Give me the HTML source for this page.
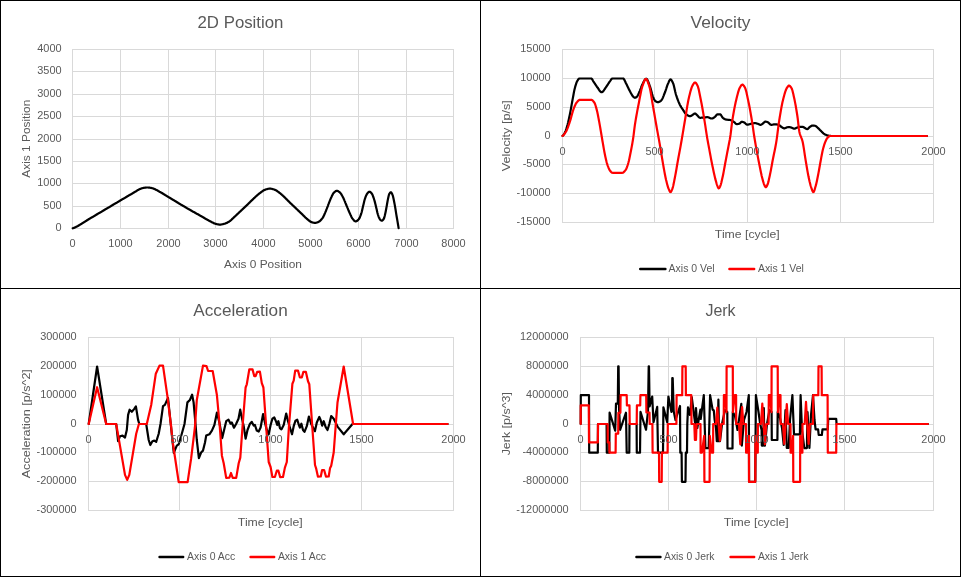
<!DOCTYPE html>
<html lang="en"><head><meta charset="utf-8"><title>Motion profile charts</title>
<style>
html,body{margin:0;padding:0;background:#fff;}
body{width:961px;height:577px;overflow:hidden;}
svg{display:block;font-family:"Liberation Sans", sans-serif;}
</style></head><body>
<svg width="961" height="577" viewBox="0 0 961 577">
<rect x="0" y="0" width="961" height="577" fill="#fff"/>
<g stroke="#d9d9d9" stroke-width="1" shape-rendering="crispEdges">
<line x1="72.5" y1="49" x2="72.5" y2="229"/>
<line x1="120.5" y1="49" x2="120.5" y2="229"/>
<line x1="168.5" y1="49" x2="168.5" y2="229"/>
<line x1="215.5" y1="49" x2="215.5" y2="229"/>
<line x1="263.5" y1="49" x2="263.5" y2="229"/>
<line x1="310.5" y1="49" x2="310.5" y2="229"/>
<line x1="358.5" y1="49" x2="358.5" y2="229"/>
<line x1="406.5" y1="49" x2="406.5" y2="229"/>
<line x1="453.5" y1="49" x2="453.5" y2="229"/>
<line x1="72" y1="49.5" x2="454" y2="49.5"/>
<line x1="72" y1="71.5" x2="454" y2="71.5"/>
<line x1="72" y1="94.5" x2="454" y2="94.5"/>
<line x1="72" y1="116.5" x2="454" y2="116.5"/>
<line x1="72" y1="139.5" x2="454" y2="139.5"/>
<line x1="72" y1="161.5" x2="454" y2="161.5"/>
<line x1="72" y1="183.5" x2="454" y2="183.5"/>
<line x1="72" y1="206.5" x2="454" y2="206.5"/>
<line x1="72" y1="228.5" x2="454" y2="228.5"/>
</g>
<g fill="none" stroke-width="2.2" stroke-linejoin="round" stroke-linecap="round">
<polyline points="72.7,228.3 73.1,228.2 73.5,228.0 73.9,227.9 74.3,227.7 74.7,227.5 75.1,227.4 75.5,227.2 75.9,227.0 76.3,226.8 76.7,226.6 77.1,226.4 77.5,226.2 77.9,226.0 78.3,225.7 78.7,225.5 79.1,225.3 79.5,225.0 79.9,224.8 80.3,224.6 80.7,224.3 81.1,224.1 81.5,223.8 81.9,223.6 82.3,223.3 82.7,223.1 83.1,222.8 83.5,222.6 83.9,222.3 84.3,222.1 84.7,221.8 85.1,221.6 85.5,221.3 85.9,221.1 86.3,220.8 86.7,220.5 87.1,220.3 87.5,220.0 87.9,219.8 88.3,219.5 88.7,219.3 89.1,219.0 89.5,218.8 89.9,218.6 90.3,218.3 90.7,218.1 91.1,217.8 91.5,217.6 91.9,217.4 92.3,217.1 92.7,216.9 93.1,216.7 93.5,216.4 93.9,216.2 94.3,215.9 94.7,215.7 95.1,215.5 95.5,215.2 95.9,215.0 96.3,214.8 96.7,214.5 97.1,214.3 97.5,214.0 97.9,213.8 98.3,213.6 98.7,213.3 99.1,213.1 99.5,212.9 99.9,212.6 100.3,212.4 100.7,212.2 101.1,211.9 101.5,211.7 101.9,211.4 102.3,211.2 102.7,211.0 103.1,210.7 103.5,210.5 103.9,210.3 104.3,210.0 104.7,209.8 105.1,209.5 105.5,209.3 105.9,209.1 106.3,208.8 106.7,208.6 107.1,208.4 107.5,208.1 107.9,207.9 108.3,207.6 108.7,207.4 109.1,207.2 109.5,206.9 109.9,206.7 110.3,206.5 110.7,206.2 111.1,206.0 111.5,205.7 111.9,205.5 112.3,205.3 112.7,205.0 113.1,204.8 113.5,204.5 113.9,204.3 114.3,204.1 114.7,203.8 115.1,203.6 115.5,203.4 115.9,203.1 116.3,202.9 116.7,202.7 117.1,202.4 117.5,202.2 117.9,201.9 118.3,201.7 118.7,201.5 119.1,201.2 119.5,201.0 119.9,200.8 120.3,200.5 120.7,200.3 121.1,200.1 121.5,199.8 121.9,199.6 122.3,199.3 122.7,199.1 123.1,198.9 123.5,198.6 123.9,198.4 124.3,198.2 124.7,197.9 125.1,197.7 125.5,197.5 125.9,197.2 126.3,197.0 126.7,196.8 127.1,196.5 127.5,196.3 127.9,196.1 128.3,195.8 128.7,195.6 129.1,195.3 129.5,195.1 129.9,194.9 130.3,194.6 130.7,194.4 131.1,194.2 131.5,193.9 131.9,193.7 132.3,193.5 132.7,193.2 133.1,193.0 133.5,192.8 133.9,192.5 134.3,192.3 134.7,192.1 135.1,191.8 135.5,191.6 135.9,191.4 136.3,191.1 136.7,190.8 137.1,190.6 137.5,190.3 137.9,190.1 138.3,189.9 138.7,189.6 139.1,189.4 139.5,189.2 139.9,189.0 140.3,188.9 140.7,188.7 141.1,188.6 141.5,188.4 141.9,188.3 142.3,188.2 142.7,188.1 143.1,188.0 143.5,187.9 143.9,187.8 144.3,187.8 144.7,187.7 145.1,187.7 145.5,187.6 145.9,187.6 146.3,187.5 146.7,187.5 147.1,187.5 147.5,187.5 147.9,187.5 148.3,187.5 148.7,187.6 149.1,187.6 149.5,187.7 149.9,187.7 150.3,187.8 150.7,187.9 151.1,187.9 151.5,188.0 151.9,188.1 152.3,188.2 152.7,188.3 153.1,188.5 153.5,188.6 153.9,188.8 154.3,189.0 154.7,189.1 155.1,189.3 155.5,189.5 155.9,189.7 156.3,189.9 156.7,190.1 157.1,190.3 157.5,190.5 157.9,190.7 158.3,191.0 158.7,191.2 159.1,191.4 159.5,191.7 159.9,191.9 160.3,192.1 160.7,192.4 161.1,192.6 161.5,192.8 161.9,193.0 162.3,193.3 162.7,193.5 163.1,193.8 163.5,194.0 163.9,194.2 164.3,194.5 164.7,194.7 165.1,195.0 165.5,195.2 165.9,195.4 166.3,195.7 166.7,195.9 167.1,196.2 167.5,196.4 167.9,196.7 168.3,196.9 168.7,197.2 169.1,197.4 169.5,197.6 169.9,197.9 170.3,198.1 170.7,198.4 171.1,198.6 171.5,198.9 171.9,199.1 172.3,199.4 172.7,199.6 173.1,199.9 173.5,200.1 173.9,200.3 174.3,200.6 174.7,200.8 175.1,201.1 175.5,201.3 175.9,201.5 176.3,201.8 176.7,202.0 177.1,202.3 177.5,202.5 177.9,202.7 178.3,203.0 178.7,203.2 179.1,203.5 179.5,203.7 179.9,203.9 180.3,204.2 180.7,204.4 181.1,204.7 181.5,204.9 181.9,205.1 182.3,205.4 182.7,205.6 183.1,205.9 183.5,206.1 183.9,206.3 184.3,206.6 184.7,206.8 185.1,207.0 185.5,207.3 185.9,207.5 186.3,207.7 186.7,208.0 187.1,208.2 187.5,208.4 187.9,208.7 188.3,208.9 188.7,209.1 189.1,209.4 189.5,209.6 189.9,209.8 190.3,210.1 190.7,210.3 191.1,210.5 191.5,210.8 191.9,211.0 192.3,211.2 192.7,211.4 193.1,211.7 193.5,211.9 193.9,212.1 194.3,212.3 194.7,212.5 195.1,212.8 195.5,213.0 195.9,213.2 196.3,213.4 196.7,213.7 197.1,213.9 197.5,214.1 197.9,214.3 198.3,214.5 198.7,214.8 199.1,215.0 199.5,215.2 199.9,215.4 200.3,215.7 200.7,215.9 201.1,216.1 201.5,216.4 201.9,216.6 202.3,216.8 202.7,217.1 203.1,217.3 203.5,217.5 203.9,217.8 204.3,218.0 204.7,218.2 205.1,218.5 205.5,218.7 205.9,218.9 206.3,219.2 206.7,219.4 207.1,219.6 207.5,219.8 207.9,220.1 208.3,220.3 208.7,220.5 209.1,220.7 209.5,220.9 209.9,221.1 210.3,221.4 210.7,221.6 211.1,221.8 211.5,222.0 211.9,222.2 212.3,222.4 212.7,222.6 213.1,222.8 213.5,223.0 213.9,223.2 214.3,223.4 214.7,223.5 215.1,223.6 215.5,223.7 215.9,223.9 216.3,224.0 216.7,224.1 217.1,224.2 217.5,224.3 217.9,224.4 218.3,224.4 218.7,224.5 219.1,224.6 219.5,224.6 219.9,224.6 220.3,224.6 220.7,224.6 221.1,224.5 221.5,224.5 221.9,224.4 222.3,224.3 222.7,224.2 223.1,224.1 223.5,224.0 223.9,223.9 224.3,223.8 224.7,223.7 225.1,223.6 225.5,223.4 225.9,223.3 226.3,223.1 226.7,223.0 227.1,222.8 227.5,222.5 227.9,222.3 228.3,222.1 228.7,221.9 229.1,221.6 229.5,221.3 229.9,221.1 230.3,220.8 230.7,220.4 231.1,220.1 231.5,219.7 231.9,219.3 232.3,218.9 232.7,218.5 233.1,218.1 233.5,217.8 233.9,217.4 234.3,217.0 234.7,216.6 235.1,216.3 235.5,215.9 235.9,215.5 236.3,215.1 236.7,214.8 237.1,214.4 237.5,214.0 237.9,213.6 238.3,213.3 238.7,212.9 239.1,212.5 239.5,212.1 239.9,211.7 240.3,211.4 240.7,211.0 241.1,210.6 241.5,210.2 241.9,209.9 242.3,209.5 242.7,209.1 243.1,208.7 243.5,208.3 243.9,208.0 244.3,207.6 244.7,207.2 245.1,206.8 245.5,206.5 245.9,206.1 246.3,205.7 246.7,205.3 247.1,205.0 247.5,204.6 247.9,204.2 248.3,203.8 248.7,203.4 249.1,203.0 249.5,202.6 249.9,202.2 250.3,201.8 250.7,201.4 251.1,201.0 251.5,200.7 251.9,200.3 252.3,199.9 252.7,199.5 253.1,199.1 253.5,198.7 253.9,198.3 254.3,197.9 254.7,197.6 255.1,197.2 255.5,196.8 255.9,196.4 256.3,196.1 256.7,195.7 257.1,195.4 257.5,195.0 257.9,194.7 258.3,194.4 258.7,194.0 259.1,193.7 259.5,193.4 259.9,193.1 260.3,192.8 260.7,192.5 261.1,192.2 261.5,191.9 261.9,191.6 262.3,191.3 262.7,191.0 263.1,190.7 263.5,190.5 263.9,190.2 264.3,190.0 264.7,189.9 265.1,189.7 265.5,189.6 265.9,189.4 266.3,189.3 266.7,189.2 267.1,189.1 267.5,189.0 267.9,188.9 268.3,188.8 268.7,188.7 269.1,188.6 269.5,188.6 269.9,188.6 270.3,188.6 270.7,188.6 271.1,188.7 271.5,188.8 271.9,188.9 272.3,189.0 272.7,189.1 273.1,189.2 273.5,189.3 273.9,189.4 274.3,189.6 274.7,189.7 275.1,189.9 275.5,190.0 275.9,190.2 276.3,190.5 276.7,190.7 277.1,191.0 277.5,191.3 277.9,191.6 278.3,191.9 278.7,192.2 279.1,192.5 279.5,192.8 279.9,193.1 280.3,193.4 280.7,193.7 281.1,194.1 281.5,194.4 281.9,194.8 282.3,195.1 282.7,195.5 283.1,195.9 283.5,196.2 283.9,196.6 284.3,197.0 284.7,197.4 285.1,197.8 285.5,198.2 285.9,198.6 286.3,199.0 286.7,199.4 287.1,199.8 287.5,200.2 287.9,200.6 288.3,201.0 288.7,201.4 289.1,201.8 289.5,202.2 289.9,202.6 290.3,203.0 290.7,203.4 291.1,203.7 291.5,204.1 291.9,204.5 292.3,204.9 292.7,205.3 293.1,205.6 293.5,206.0 293.9,206.4 294.3,206.8 294.7,207.2 295.1,207.5 295.5,207.9 295.9,208.3 296.3,208.7 296.7,209.1 297.1,209.4 297.5,209.8 297.9,210.2 298.3,210.6 298.7,211.0 299.1,211.3 299.5,211.7 299.9,212.1 300.3,212.5 300.7,212.9 301.1,213.3 301.5,213.7 301.9,214.0 302.3,214.4 302.7,214.8 303.1,215.2 303.5,215.6 303.9,216.0 304.3,216.4 304.7,216.8 305.1,217.2 305.5,217.6 305.9,217.9 306.3,218.3 306.7,218.6 307.1,219.0 307.5,219.3 307.9,219.6 308.3,220.0 308.7,220.3 309.1,220.7 309.5,221.0 309.9,221.3 310.3,221.5 310.7,221.8 311.1,222.0 311.5,222.1 311.9,222.2 312.3,222.4 312.7,222.5 313.1,222.6 313.5,222.7 313.9,222.8 314.3,222.9 314.7,222.9 315.1,222.9 315.5,222.9 315.9,222.8 316.3,222.7 316.7,222.6 317.1,222.5 317.5,222.3 317.9,222.2 318.3,222.0 318.7,221.8 319.1,221.6 319.5,221.3 319.9,221.0 320.3,220.7 320.7,220.3 321.1,219.8 321.5,219.4 321.9,218.9 322.3,218.4 322.7,217.8 323.1,217.2 323.5,216.4 323.9,215.6 324.3,214.7 324.7,213.8 325.1,212.9 325.5,211.9 325.9,211.0 326.3,209.9 326.7,208.9 327.1,207.8 327.5,206.8 327.9,205.8 328.3,204.7 328.7,203.7 329.1,202.6 329.5,201.6 329.9,200.6 330.3,199.6 330.7,198.6 331.1,197.7 331.5,196.9 331.9,196.0 332.3,195.2 332.7,194.4 333.1,193.7 333.5,193.1 333.9,192.7 334.3,192.3 334.7,191.9 335.1,191.6 335.5,191.3 335.9,191.0 336.3,190.9 336.7,190.8 337.1,190.8 337.5,190.9 337.9,191.1 338.3,191.3 338.7,191.6 339.1,191.9 339.5,192.2 339.9,192.5 340.3,192.9 340.7,193.4 341.1,193.9 341.5,194.6 341.9,195.3 342.3,196.0 342.7,196.7 343.1,197.5 343.5,198.3 343.9,199.2 344.3,200.1 344.7,201.1 345.1,202.0 345.5,203.1 345.9,204.0 346.3,205.0 346.7,206.0 347.1,206.9 347.5,207.9 347.9,208.8 348.3,209.8 348.7,210.8 349.1,211.7 349.5,212.6 349.9,213.5 350.3,214.4 350.7,215.3 351.1,216.1 351.5,217.0 351.9,217.7 352.3,218.4 352.7,218.9 353.1,219.4 353.5,219.9 353.9,220.4 354.3,220.8 354.7,221.1 355.1,221.3 355.5,221.4 355.9,221.4 356.3,221.3 356.7,221.1 357.1,220.8 357.5,220.5 357.9,220.1 358.3,219.7 358.7,219.3 359.1,218.8 359.5,218.1 359.9,217.2 360.3,216.2 360.7,215.1 361.1,214.0 361.5,212.7 361.9,211.2 362.3,209.5 362.7,207.7 363.1,206.1 363.5,204.4 363.9,202.7 364.3,201.0 364.7,199.5 365.1,198.3 365.5,197.2 365.9,196.1 366.3,195.2 366.7,194.4 367.1,193.7 367.5,193.2 367.9,192.8 368.3,192.4 368.7,192.0 369.1,191.8 369.5,191.7 369.9,191.8 370.3,192.0 370.7,192.3 371.1,192.7 371.5,193.2 371.9,193.7 372.3,194.4 372.7,195.3 373.1,196.4 373.5,197.5 373.9,198.7 374.3,200.0 374.7,201.4 375.1,202.9 375.5,204.6 375.9,206.3 376.3,207.9 376.7,209.6 377.1,211.4 377.5,213.1 377.9,214.5 378.3,215.7 378.7,216.8 379.1,217.8 379.5,218.6 379.9,219.2 380.3,219.7 380.7,220.1 381.1,220.4 381.5,220.6 381.9,220.7 382.3,220.5 382.7,220.2 383.1,219.8 383.5,219.3 383.9,218.6 384.3,217.5 384.7,216.0 385.1,214.3 385.5,212.5 385.9,210.5 386.3,208.3 386.7,206.1 387.1,203.8 387.5,201.5 387.9,199.4 388.3,197.5 388.7,195.7 389.1,194.3 389.5,193.6 389.9,193.0 390.3,192.5 390.7,192.3 391.1,192.4 391.5,192.8 391.9,193.5 392.3,194.3 392.7,195.3 393.1,196.7 393.5,198.5 393.9,200.5 394.3,202.5 394.7,204.6 395.1,206.9 395.5,209.3 395.9,211.8 396.3,214.3 396.7,216.7 397.1,219.0 397.5,221.4 397.9,223.7 398.3,226.1 398.6,228.1" stroke="#000000"/>
</g>
<g fill="#595959">
<text x="240.50" y="27.70" font-size="16.80" text-anchor="middle" textLength="85.92" lengthAdjust="spacingAndGlyphs">2D Position</text>
<text x="61.60" y="52.10" font-size="10.80" text-anchor="end" textLength="24.33" lengthAdjust="spacingAndGlyphs">4000</text>
<text x="61.60" y="74.10" font-size="10.80" text-anchor="end" textLength="24.33" lengthAdjust="spacingAndGlyphs">3500</text>
<text x="61.60" y="97.10" font-size="10.80" text-anchor="end" textLength="24.33" lengthAdjust="spacingAndGlyphs">3000</text>
<text x="61.60" y="119.10" font-size="10.80" text-anchor="end" textLength="24.33" lengthAdjust="spacingAndGlyphs">2500</text>
<text x="61.60" y="142.10" font-size="10.80" text-anchor="end" textLength="24.33" lengthAdjust="spacingAndGlyphs">2000</text>
<text x="61.60" y="164.10" font-size="10.80" text-anchor="end" textLength="24.33" lengthAdjust="spacingAndGlyphs">1500</text>
<text x="61.60" y="186.10" font-size="10.80" text-anchor="end" textLength="24.33" lengthAdjust="spacingAndGlyphs">1000</text>
<text x="61.60" y="209.10" font-size="10.80" text-anchor="end" textLength="18.25" lengthAdjust="spacingAndGlyphs">500</text>
<text x="61.60" y="231.10" font-size="10.80" text-anchor="end" textLength="6.08" lengthAdjust="spacingAndGlyphs">0</text>
<text x="72.50" y="246.90" font-size="10.80" text-anchor="middle" textLength="6.08" lengthAdjust="spacingAndGlyphs">0</text>
<text x="120.50" y="246.90" font-size="10.80" text-anchor="middle" textLength="24.33" lengthAdjust="spacingAndGlyphs">1000</text>
<text x="168.50" y="246.90" font-size="10.80" text-anchor="middle" textLength="24.33" lengthAdjust="spacingAndGlyphs">2000</text>
<text x="215.50" y="246.90" font-size="10.80" text-anchor="middle" textLength="24.33" lengthAdjust="spacingAndGlyphs">3000</text>
<text x="263.50" y="246.90" font-size="10.80" text-anchor="middle" textLength="24.33" lengthAdjust="spacingAndGlyphs">4000</text>
<text x="310.50" y="246.90" font-size="10.80" text-anchor="middle" textLength="24.33" lengthAdjust="spacingAndGlyphs">5000</text>
<text x="358.50" y="246.90" font-size="10.80" text-anchor="middle" textLength="24.33" lengthAdjust="spacingAndGlyphs">6000</text>
<text x="406.50" y="246.90" font-size="10.80" text-anchor="middle" textLength="24.33" lengthAdjust="spacingAndGlyphs">7000</text>
<text x="453.50" y="246.90" font-size="10.80" text-anchor="middle" textLength="24.33" lengthAdjust="spacingAndGlyphs">8000</text>
<text x="263.00" y="267.60" font-size="11.33" text-anchor="middle" textLength="77.94" lengthAdjust="spacingAndGlyphs">Axis 0 Position</text>
<text x="29.60" y="138.70" font-size="11.33" text-anchor="middle" textLength="77.94" lengthAdjust="spacingAndGlyphs" transform="rotate(-90 29.60 138.70)">Axis 1 Position</text>
</g>
<g stroke="#d9d9d9" stroke-width="1" shape-rendering="crispEdges">
<line x1="562.5" y1="49" x2="562.5" y2="223"/>
<line x1="654.5" y1="49" x2="654.5" y2="223"/>
<line x1="747.5" y1="49" x2="747.5" y2="223"/>
<line x1="840.5" y1="49" x2="840.5" y2="223"/>
<line x1="933.5" y1="49" x2="933.5" y2="223"/>
<line x1="562" y1="49.5" x2="934" y2="49.5"/>
<line x1="562" y1="78.5" x2="934" y2="78.5"/>
<line x1="562" y1="107.5" x2="934" y2="107.5"/>
<line x1="562" y1="136.5" x2="934" y2="136.5"/>
<line x1="562" y1="164.5" x2="934" y2="164.5"/>
<line x1="562" y1="193.5" x2="934" y2="193.5"/>
<line x1="562" y1="222.5" x2="934" y2="222.5"/>
</g>
<g fill="none" stroke-width="2.2" stroke-linejoin="round" stroke-linecap="round">
<polyline points="562.5,135.9 562.9,135.6 563.3,135.2 563.7,134.6 564.1,134.0 564.5,133.3 564.9,132.6 565.3,131.8 565.7,130.8 566.1,129.6 566.5,128.4 566.9,127.0 567.3,125.6 567.7,124.2 568.1,122.6 568.5,120.8 568.9,119.0 569.3,117.1 569.7,115.2 570.1,113.2 570.5,111.1 570.9,108.9 571.3,106.7 571.7,104.4 572.1,102.2 572.5,100.0 572.9,97.9 573.3,95.7 573.7,93.5 574.1,91.4 574.5,89.5 574.9,87.9 575.3,86.4 575.7,85.1 576.1,83.9 576.5,82.7 576.9,81.7 577.3,80.9 577.7,80.3 578.1,79.7 578.5,79.1 578.9,78.7 579.3,78.5 579.7,78.5 580.1,78.5 580.5,78.5 580.9,78.5 581.3,78.5 581.7,78.5 582.1,78.5 582.5,78.5 582.9,78.5 583.3,78.5 583.7,78.5 584.1,78.5 584.5,78.5 584.9,78.5 585.3,78.5 585.7,78.5 586.1,78.5 586.5,78.5 586.9,78.5 587.3,78.5 587.7,78.5 588.1,78.5 588.5,78.5 588.9,78.5 589.3,78.5 589.7,78.5 590.1,78.5 590.5,78.5 590.9,78.5 591.3,78.5 591.7,78.7 592.1,79.2 592.5,79.8 592.9,80.6 593.3,81.3 593.7,81.9 594.1,82.5 594.5,83.1 594.9,83.7 595.3,84.3 595.7,84.9 596.1,85.5 596.5,86.1 596.9,86.7 597.3,87.2 597.7,87.8 598.1,88.3 598.5,88.9 598.9,89.6 599.3,90.2 599.7,90.7 600.1,91.2 600.5,91.6 600.9,92.0 601.3,92.2 601.7,92.2 602.1,92.1 602.5,91.9 602.9,91.5 603.3,91.1 603.7,90.6 604.1,90.0 604.5,89.4 604.9,88.8 605.3,88.2 605.7,87.6 606.1,87.0 606.5,86.5 606.9,85.9 607.3,85.3 607.7,84.7 608.1,84.0 608.5,83.4 608.9,82.8 609.3,82.2 609.7,81.6 610.1,81.1 610.5,80.5 610.9,79.9 611.3,79.3 611.7,78.9 612.1,78.6 612.5,78.5 612.9,78.5 613.3,78.5 613.7,78.5 614.1,78.5 614.5,78.5 614.9,78.5 615.3,78.5 615.7,78.5 616.1,78.5 616.5,78.5 616.9,78.5 617.3,78.5 617.7,78.5 618.1,78.5 618.5,78.5 618.9,78.5 619.3,78.5 619.7,78.5 620.1,78.5 620.5,78.5 620.9,78.5 621.3,78.5 621.7,78.5 622.1,78.5 622.5,78.5 622.9,78.5 623.3,78.5 623.7,78.8 624.1,79.4 624.5,80.1 624.9,80.9 625.3,81.8 625.7,82.7 626.1,83.5 626.5,84.3 626.9,85.1 627.3,85.9 627.7,86.7 628.1,87.6 628.5,88.4 628.9,89.2 629.3,90.1 629.7,90.8 630.1,91.6 630.5,92.3 630.9,93.1 631.3,93.8 631.7,94.5 632.1,95.2 632.5,95.8 632.9,96.3 633.3,96.7 633.7,97.1 634.1,97.4 634.5,97.7 634.9,97.8 635.3,97.7 635.7,97.6 636.1,97.3 636.5,97.0 636.9,96.7 637.3,96.2 637.7,95.6 638.1,94.8 638.5,93.9 638.9,93.0 639.3,92.0 639.7,91.1 640.1,90.1 640.5,89.1 640.9,88.1 641.3,87.0 641.7,86.0 642.1,85.0 642.5,84.2 642.9,83.4 643.3,82.6 643.7,81.8 644.1,81.0 644.5,80.3 644.9,79.7 645.3,79.2 645.7,78.9 646.1,78.7 646.5,78.8 646.9,79.1 647.3,79.7 647.7,80.5 648.1,81.4 648.5,82.4 648.9,83.5 649.3,84.6 649.7,85.7 650.1,86.7 650.5,88.0 650.9,89.5 651.3,91.0 651.7,92.6 652.1,94.1 652.5,95.4 652.9,96.6 653.3,97.5 653.7,98.4 654.1,99.2 654.5,100.0 654.9,100.6 655.3,101.0 655.7,101.3 656.1,101.6 656.5,101.8 656.9,102.0 657.3,102.1 657.7,102.2 658.1,102.2 658.5,102.1 658.9,102.0 659.3,101.8 659.7,101.6 660.1,101.4 660.5,101.1 660.9,100.8 661.3,100.4 661.7,99.9 662.1,99.2 662.5,98.5 662.9,97.6 663.3,96.6 663.7,95.6 664.1,94.5 664.5,93.5 664.9,92.5 665.3,91.5 665.7,90.3 666.1,89.1 666.5,87.8 666.9,86.6 667.3,85.4 667.7,84.4 668.1,83.5 668.5,82.6 668.9,81.6 669.3,80.8 669.7,80.1 670.1,79.6 670.5,79.4 670.9,79.5 671.3,79.9 671.7,80.5 672.1,81.2 672.5,82.0 672.9,82.9 673.3,83.8 673.7,85.1 674.1,86.7 674.5,88.4 674.9,90.2 675.3,92.0 675.7,93.6 676.1,95.0 676.5,96.2 676.9,97.4 677.3,98.5 677.7,99.6 678.1,100.7 678.5,101.7 678.9,102.6 679.3,103.5 679.7,104.4 680.1,105.2 680.5,105.9 680.9,106.6 681.3,107.3 681.7,107.9 682.1,108.5 682.5,109.1 682.9,109.7 683.3,110.3 683.7,110.9 684.1,111.6 684.5,112.2 684.9,112.8 685.3,113.4 685.7,113.8 686.1,114.2 686.5,114.5 686.9,114.8 687.3,115.1 687.7,115.4 688.1,115.6 688.5,115.8 688.9,116.0 689.3,116.1 689.7,116.2 690.1,116.2 690.5,116.1 690.9,116.0 691.3,115.7 691.7,115.5 692.1,115.2 692.5,115.0 692.9,114.7 693.3,114.4 693.7,114.1 694.1,113.8 694.5,113.6 694.9,113.5 695.3,113.6 695.7,113.8 696.1,114.1 696.5,114.6 696.9,115.0 697.3,115.4 697.7,115.8 698.1,116.2 698.5,116.7 698.9,117.1 699.3,117.5 699.7,117.7 700.1,117.8 700.5,117.8 700.9,117.8 701.3,117.7 701.7,117.7 702.1,117.7 702.5,117.6 702.9,117.6 703.3,117.5 703.7,117.5 704.1,117.5 704.5,117.4 704.9,117.4 705.3,117.3 705.7,117.3 706.1,117.3 706.5,117.2 706.9,117.2 707.3,117.2 707.7,117.2 708.1,117.3 708.5,117.4 708.9,117.5 709.3,117.7 709.7,117.9 710.1,118.1 710.5,118.2 710.9,118.4 711.3,118.5 711.7,118.5 712.1,118.5 712.5,118.4 712.9,118.2 713.3,118.0 713.7,117.7 714.1,117.5 714.5,117.2 714.9,116.9 715.3,116.5 715.7,116.1 716.1,115.5 716.5,115.0 716.9,114.6 717.3,114.3 717.7,114.3 718.1,114.3 718.5,114.3 718.9,114.3 719.3,114.3 719.7,114.3 720.1,114.3 720.5,114.5 720.9,114.9 721.3,115.5 721.7,116.2 722.1,116.9 722.5,117.5 722.9,117.9 723.3,118.2 723.7,118.5 724.1,118.7 724.5,119.0 724.9,119.2 725.3,119.3 725.7,119.5 726.1,119.6 726.5,119.6 726.9,119.7 727.3,119.7 727.7,119.8 728.1,119.8 728.5,119.8 728.9,119.9 729.3,119.9 729.7,120.0 730.1,120.0 730.5,120.1 730.9,120.3 731.3,120.4 731.7,120.6 732.1,120.8 732.5,121.1 732.9,121.3 733.3,121.6 733.7,121.8 734.1,122.1 734.5,122.4 734.9,122.8 735.3,123.2 735.7,123.6 736.1,123.9 736.5,124.1 736.9,124.1 737.3,124.1 737.7,124.0 738.1,124.0 738.5,123.9 738.9,123.8 739.3,123.7 739.7,123.5 740.1,123.1 740.5,122.7 740.9,122.3 741.3,122.0 741.7,121.8 742.1,121.8 742.5,121.9 742.9,122.0 743.3,122.1 743.7,122.2 744.1,122.4 744.5,122.6 744.9,123.0 745.3,123.4 745.7,123.7 746.1,124.1 746.5,124.4 746.9,124.6 747.3,124.7 747.7,124.7 748.1,124.6 748.5,124.5 748.9,124.4 749.3,124.3 749.7,124.2 750.1,124.0 750.5,123.9 750.9,123.8 751.3,123.7 751.7,123.6 752.1,123.5 752.5,123.4 752.9,123.3 753.3,123.3 753.7,123.2 754.1,123.1 754.5,123.1 754.9,123.1 755.3,123.1 755.7,123.2 756.1,123.3 756.5,123.4 756.9,123.5 757.3,123.7 757.7,123.8 758.1,123.9 758.5,124.1 758.9,124.3 759.3,124.5 759.7,124.7 760.1,124.8 760.5,124.9 760.9,124.8 761.3,124.7 761.7,124.4 762.1,124.1 762.5,123.8 762.9,123.5 763.3,123.2 763.7,122.8 764.1,122.4 764.5,122.1 764.9,121.8 765.3,121.6 765.7,121.6 766.1,121.7 766.5,121.8 766.9,121.9 767.3,122.1 767.7,122.3 768.1,122.4 768.5,122.7 768.9,123.1 769.3,123.5 769.7,123.9 770.1,124.3 770.5,124.6 770.9,124.8 771.3,124.9 771.7,124.9 772.1,124.8 772.5,124.7 772.9,124.6 773.3,124.5 773.7,124.4 774.1,124.4 774.5,124.3 774.9,124.3 775.3,124.3 775.7,124.3 776.1,124.4 776.5,124.4 776.9,124.5 777.3,124.6 777.7,124.7 778.1,124.7 778.5,124.8 778.9,125.0 779.3,125.2 779.7,125.5 780.1,125.8 780.5,126.2 780.9,126.5 781.3,126.9 781.7,127.1 782.1,127.4 782.5,127.6 782.9,127.9 783.3,128.1 783.7,128.3 784.1,128.4 784.5,128.4 784.9,128.3 785.3,128.1 785.7,127.9 786.1,127.7 786.5,127.5 786.9,127.4 787.3,127.3 787.7,127.2 788.1,127.2 788.5,127.1 788.9,127.1 789.3,127.1 789.7,127.1 790.1,127.2 790.5,127.3 790.9,127.5 791.3,127.6 791.7,127.8 792.1,127.9 792.5,128.1 792.9,128.3 793.3,128.5 793.7,128.6 794.1,128.7 794.5,128.7 794.9,128.6 795.3,128.4 795.7,128.2 796.1,128.0 796.5,127.8 796.9,127.7 797.3,127.5 797.7,127.4 798.1,127.2 798.5,127.1 798.9,127.0 799.3,126.9 799.7,126.8 800.1,126.8 800.5,126.8 800.9,126.8 801.3,126.8 801.7,126.8 802.1,126.8 802.5,126.8 802.9,126.9 803.3,127.0 803.7,127.3 804.1,127.5 804.5,127.8 804.9,128.0 805.3,128.3 805.7,128.5 806.1,128.7 806.5,128.9 806.9,129.1 807.3,129.1 807.7,129.0 808.1,128.7 808.5,128.3 808.9,127.8 809.3,127.4 809.7,127.0 810.1,126.7 810.5,126.5 810.9,126.2 811.3,126.0 811.7,125.8 812.1,125.6 812.5,125.6 812.9,125.6 813.3,125.6 813.7,125.7 814.1,125.7 814.5,125.7 814.9,125.8 815.3,125.9 815.7,126.1 816.1,126.3 816.5,126.6 816.9,127.0 817.3,127.4 817.7,127.7 818.1,128.1 818.5,128.5 818.9,128.8 819.3,129.2 819.7,129.7 820.1,130.1 820.5,130.5 820.9,130.9 821.3,131.3 821.7,131.7 822.1,132.1 822.5,132.5 822.9,132.9 823.3,133.3 823.7,133.6 824.1,133.9 824.5,134.2 824.9,134.4 825.3,134.6 825.7,134.8 826.1,134.9 826.5,135.1 826.9,135.2 827.3,135.4 827.7,135.5 828.1,135.6 828.5,135.7 828.9,135.7 829.3,135.8 829.7,135.8 830.1,135.9 830.5,135.9 830.9,136.0 831.3,136.0 831.7,136.0 832.1,136.0 832.5,136.0 832.9,136.0 833.3,136.0 833.7,136.0 834.1,136.0 834.5,136.0 834.9,136.0 835.3,136.0 835.7,136.0 836.1,136.0 836.5,136.0 836.9,136.0 837.3,136.0 837.7,136.0 838.1,136.0 838.5,136.0 838.9,136.0 839.3,136.0 839.7,136.0 840.1,136.0 840.5,136.0 840.9,136.0 841.3,136.0 841.7,136.0 842.1,136.0 842.5,136.0 842.9,136.0 843.3,136.0 843.7,136.0 844.1,136.0 844.5,136.0 844.9,136.0 845.3,136.0 845.7,136.0 846.1,136.0 846.5,136.0 846.9,136.0 847.3,136.0 847.7,136.0 848.1,136.0 848.5,136.0 848.9,136.0 849.3,136.0 849.7,136.0 850.1,136.0 850.5,136.0 850.9,136.0 851.3,136.0 851.7,136.0 852.1,136.0 852.5,136.0 852.9,136.0 853.3,136.0 853.7,136.0 854.1,136.0 854.5,136.0 854.9,136.0 855.3,136.0 855.7,136.0 856.1,136.0 856.5,136.0 856.9,136.0 857.3,136.0 857.7,136.0 858.1,136.0 858.5,136.0 858.9,136.0 859.3,136.0 859.7,136.0 860.1,136.0 860.5,136.0 860.9,136.0 861.3,136.0 861.7,136.0 862.1,136.0 862.5,136.0 862.9,136.0 863.3,136.0 863.7,136.0 864.1,136.0 864.5,136.0 864.9,136.0 865.3,136.0 865.7,136.0 866.1,136.0 866.5,136.0 866.9,136.0 867.3,136.0 867.7,136.0 868.1,136.0 868.5,136.0 868.9,136.0 869.3,136.0 869.7,136.0 870.1,136.0 870.5,136.0 870.9,136.0 871.3,136.0 871.7,136.0 872.1,136.0 872.5,136.0 872.9,136.0 873.3,136.0 873.7,136.0 874.1,136.0 874.5,136.0 874.9,136.0 875.3,136.0 875.7,136.0 876.1,136.0 876.5,136.0 876.9,136.0 877.3,136.0 877.7,136.0 878.1,136.0 878.5,136.0 878.9,136.0 879.3,136.0 879.7,136.0 880.1,136.0 880.5,136.0 880.9,136.0 881.3,136.0 881.7,136.0 882.1,136.0 882.5,136.0 882.9,136.0 883.3,136.0 883.7,136.0 884.1,136.0 884.5,136.0 884.9,136.0 885.3,136.0 885.7,136.0 886.1,136.0 886.5,136.0 886.9,136.0 887.3,136.0 887.7,136.0 888.1,136.0 888.5,136.0 888.9,136.0 889.3,136.0 889.7,136.0 890.1,136.0 890.5,136.0 890.9,136.0 891.3,136.0 891.7,136.0 892.1,136.0 892.5,136.0 892.9,136.0 893.3,136.0 893.7,136.0 894.1,136.0 894.5,136.0 894.9,136.0 895.3,136.0 895.7,136.0 896.1,136.0 896.5,136.0 896.9,136.0 897.3,136.0 897.7,136.0 898.1,136.0 898.5,136.0 898.9,136.0 899.3,136.0 899.7,136.0 900.1,136.0 900.5,136.0 900.9,136.0 901.3,136.0 901.7,136.0 902.1,136.0 902.5,136.0 902.9,136.0 903.3,136.0 903.7,136.0 904.1,136.0 904.5,136.0 904.9,136.0 905.3,136.0 905.7,136.0 906.1,136.0 906.5,136.0 906.9,136.0 907.3,136.0 907.7,136.0 908.1,136.0 908.5,136.0 908.9,136.0 909.3,136.0 909.7,136.0 910.1,136.0 910.5,136.0 910.9,136.0 911.3,136.0 911.7,136.0 912.1,136.0 912.5,136.0 912.9,136.0 913.3,136.0 913.7,136.0 914.1,136.0 914.5,136.0 914.9,136.0 915.3,136.0 915.7,136.0 916.1,136.0 916.5,136.0 916.9,136.0 917.3,136.0 917.7,136.0 918.1,136.0 918.5,136.0 918.9,136.0 919.3,136.0 919.7,136.0 920.1,136.0 920.5,136.0 920.9,136.0 921.3,136.0 921.7,136.0 922.1,136.0 922.5,136.0 922.9,136.0 923.3,136.0 923.7,136.0 924.1,136.0 924.5,136.0 924.9,136.0 925.3,136.0 925.7,136.0 926.1,136.0 926.5,136.0 926.9,136.0" stroke="#000000"/>
<polyline points="562.5,135.9 562.9,135.6 563.3,135.3 563.7,134.9 564.1,134.4 564.5,133.9 564.9,133.3 565.3,132.7 565.7,132.0 566.1,131.4 566.5,130.7 566.9,129.8 567.3,128.9 567.7,127.9 568.1,126.8 568.5,125.7 568.9,124.5 569.3,123.3 569.7,122.1 570.1,120.9 570.5,119.6 570.9,118.2 571.3,116.8 571.7,115.3 572.1,113.8 572.5,112.4 572.9,111.0 573.3,109.8 573.7,108.7 574.1,107.7 574.5,106.7 574.9,105.8 575.3,104.9 575.7,104.1 576.1,103.3 576.5,102.7 576.9,102.2 577.3,101.8 577.7,101.3 578.1,100.9 578.5,100.5 578.9,100.2 579.3,100.0 579.7,99.8 580.1,99.8 580.5,99.8 580.9,99.8 581.3,99.8 581.7,99.8 582.1,99.8 582.5,99.8 582.9,99.8 583.3,99.8 583.7,99.8 584.1,99.8 584.5,99.8 584.9,99.8 585.3,99.8 585.7,99.8 586.1,99.8 586.5,99.8 586.9,99.8 587.3,99.8 587.7,99.8 588.1,99.8 588.5,99.8 588.9,99.8 589.3,99.8 589.7,99.8 590.1,99.8 590.5,99.8 590.9,99.8 591.3,99.8 591.7,99.9 592.1,100.1 592.5,100.4 592.9,100.8 593.3,101.2 593.7,101.7 594.1,102.2 594.5,102.8 594.9,103.7 595.3,104.7 595.7,106.0 596.1,107.4 596.5,108.9 596.9,110.4 597.3,112.1 597.7,113.9 598.1,116.0 598.5,118.1 598.9,120.2 599.3,122.4 599.7,124.6 600.1,126.9 600.5,129.2 600.9,131.6 601.3,134.0 601.7,136.4 602.1,138.8 602.5,141.2 602.9,143.4 603.3,145.8 603.7,148.1 604.1,150.4 604.5,152.5 604.9,154.5 605.3,156.4 605.7,158.2 606.1,159.9 606.5,161.6 606.9,163.1 607.3,164.4 607.7,165.6 608.1,166.7 608.5,167.7 608.9,168.6 609.3,169.5 609.7,170.2 610.1,170.7 610.5,171.3 610.9,171.8 611.3,172.2 611.7,172.5 612.1,172.7 612.5,172.8 612.9,172.8 613.3,172.8 613.7,172.8 614.1,172.8 614.5,172.8 614.9,172.8 615.3,172.8 615.7,172.8 616.1,172.8 616.5,172.8 616.9,172.8 617.3,172.8 617.7,172.8 618.1,172.8 618.5,172.8 618.9,172.8 619.3,172.8 619.7,172.8 620.1,172.8 620.5,172.8 620.9,172.8 621.3,172.8 621.7,172.8 622.1,172.8 622.5,172.8 622.9,172.7 623.3,172.5 623.7,172.2 624.1,171.8 624.5,171.4 624.9,170.9 625.3,170.4 625.7,169.9 626.1,169.2 626.5,168.3 626.9,167.3 627.3,166.2 627.7,165.0 628.1,163.7 628.5,162.3 628.9,160.7 629.3,158.9 629.7,157.0 630.1,155.0 630.5,153.0 630.9,151.0 631.3,149.0 631.7,146.9 632.1,144.7 632.5,142.4 632.9,140.0 633.3,137.3 633.7,134.3 634.1,131.0 634.5,127.8 634.9,124.9 635.3,122.3 635.7,119.9 636.1,117.5 636.5,115.3 636.9,113.1 637.3,110.9 637.7,108.8 638.1,106.8 638.5,104.7 638.9,102.7 639.3,100.5 639.7,98.4 640.1,96.3 640.5,94.2 640.9,92.2 641.3,90.3 641.7,88.6 642.1,87.1 642.5,85.9 642.9,84.8 643.3,83.6 643.7,82.5 644.1,81.5 644.5,80.6 644.9,79.8 645.3,79.3 645.7,79.0 646.1,79.0 646.5,79.3 646.9,79.9 647.3,80.6 647.7,81.6 648.1,82.6 648.5,83.8 648.9,85.0 649.3,86.2 649.7,87.6 650.1,89.3 650.5,91.3 650.9,93.6 651.3,95.9 651.7,98.4 652.1,100.9 652.5,103.3 652.9,105.6 653.3,107.9 653.7,110.2 654.1,112.4 654.5,114.8 654.9,117.1 655.3,119.4 655.7,121.7 656.1,124.0 656.5,126.3 656.9,128.6 657.3,130.8 657.7,132.9 658.1,135.1 658.5,137.3 658.9,139.4 659.3,141.6 659.7,143.9 660.1,146.2 660.5,148.5 660.9,151.0 661.3,153.5 661.7,155.9 662.1,158.4 662.5,160.8 662.9,163.1 663.3,165.4 663.7,167.7 664.1,169.9 664.5,172.1 664.9,174.3 665.3,176.3 665.7,178.2 666.1,180.0 666.5,181.6 666.9,183.2 667.3,184.7 667.7,186.1 668.1,187.4 668.5,188.5 668.9,189.4 669.3,190.4 669.7,191.3 670.1,191.9 670.5,192.1 670.9,191.9 671.3,191.3 671.7,190.4 672.1,189.5 672.5,188.4 672.9,187.1 673.3,185.5 673.7,183.6 674.1,181.6 674.5,179.5 674.9,177.5 675.3,175.4 675.7,173.3 676.1,171.0 676.5,168.7 676.9,166.3 677.3,164.0 677.7,161.7 678.1,159.5 678.5,157.3 678.9,155.1 679.3,153.0 679.7,150.9 680.1,148.7 680.5,146.6 680.9,144.3 681.3,142.0 681.7,139.7 682.1,137.4 682.5,135.0 682.9,132.6 683.3,130.2 683.7,127.8 684.1,125.4 684.5,123.0 684.9,120.6 685.3,118.2 685.7,115.8 686.1,113.3 686.5,110.8 686.9,108.3 687.3,105.9 687.7,103.7 688.1,101.5 688.5,99.6 688.9,97.8 689.3,96.1 689.7,94.5 690.1,92.8 690.5,91.3 690.9,89.9 691.3,88.6 691.7,87.4 692.1,86.4 692.5,85.6 692.9,84.9 693.3,84.2 693.7,83.6 694.1,83.0 694.5,82.7 694.9,82.5 695.3,82.6 695.7,82.8 696.1,83.3 696.5,83.8 696.9,84.5 697.3,85.2 697.7,86.0 698.1,87.2 698.5,88.6 698.9,90.3 699.3,92.2 699.7,94.2 700.1,96.2 700.5,98.2 700.9,100.2 701.3,102.2 701.7,104.3 702.1,106.5 702.5,108.8 702.9,111.1 703.3,113.4 703.7,115.8 704.1,118.2 704.5,120.6 704.9,123.1 705.3,125.7 705.7,128.4 706.1,131.0 706.5,133.7 706.9,136.2 707.3,138.6 707.7,140.8 708.1,143.0 708.5,145.1 708.9,147.3 709.3,149.4 709.7,151.6 710.1,153.8 710.5,155.9 710.9,158.1 711.3,160.2 711.7,162.2 712.1,164.2 712.5,166.2 712.9,168.1 713.3,170.0 713.7,171.9 714.1,173.7 714.5,175.5 714.9,177.2 715.3,178.9 715.7,180.4 716.1,181.8 716.5,183.3 716.9,184.6 717.3,185.7 717.7,186.7 718.1,187.6 718.5,188.3 718.9,188.3 719.3,187.9 719.7,187.2 720.1,186.4 720.5,185.5 720.9,184.2 721.3,182.7 721.7,181.0 722.1,179.3 722.5,177.5 722.9,175.7 723.3,173.7 723.7,171.6 724.1,169.4 724.5,167.2 724.9,165.0 725.3,162.8 725.7,160.7 726.1,158.6 726.5,156.5 726.9,154.4 727.3,152.3 727.7,150.2 728.1,148.2 728.5,146.1 728.9,144.0 729.3,141.9 729.7,139.9 730.1,137.6 730.5,135.0 730.9,131.9 731.3,128.5 731.7,125.2 732.1,122.1 732.5,119.4 732.9,116.9 733.3,114.5 733.7,112.2 734.1,110.0 734.5,107.9 734.9,105.9 735.3,104.0 735.7,102.1 736.1,100.4 736.5,98.8 736.9,97.1 737.3,95.5 737.7,93.9 738.1,92.4 738.5,91.1 738.9,89.8 739.3,88.7 739.7,87.9 740.1,87.2 740.5,86.5 740.9,85.9 741.3,85.3 741.7,84.9 742.1,84.7 742.5,84.6 742.9,84.8 743.3,85.1 743.7,85.6 744.1,86.2 744.5,86.8 744.9,87.5 745.3,88.4 745.7,89.6 746.1,91.0 746.5,92.6 746.9,94.4 747.3,96.3 747.7,98.2 748.1,100.0 748.5,101.9 748.9,103.8 749.3,105.8 749.7,108.0 750.1,110.1 750.5,112.4 750.9,114.7 751.3,117.0 751.7,119.4 752.1,121.9 752.5,124.5 752.9,127.2 753.3,130.0 753.7,132.8 754.1,135.5 754.5,138.0 754.9,140.4 755.3,142.8 755.7,145.1 756.1,147.3 756.5,149.6 756.9,151.8 757.3,153.9 757.7,156.0 758.1,158.1 758.5,160.2 758.9,162.2 759.3,164.3 759.7,166.3 760.1,168.3 760.5,170.3 760.9,172.2 761.3,174.1 761.7,175.9 762.1,177.5 762.5,179.1 762.9,180.6 763.3,182.0 763.7,183.3 764.1,184.5 764.5,185.3 764.9,186.2 765.3,186.8 765.7,187.2 766.1,187.1 766.5,186.6 766.9,185.9 767.3,185.1 767.7,184.2 768.1,182.9 768.5,181.4 768.9,179.6 769.3,177.8 769.7,175.9 770.1,174.1 770.5,172.1 770.9,170.1 771.3,167.9 771.7,165.7 772.1,163.5 772.5,161.3 772.9,159.2 773.3,157.2 773.7,155.2 774.1,153.3 774.5,151.4 774.9,149.5 775.3,147.5 775.7,145.3 776.1,143.1 776.5,140.6 776.9,137.8 777.3,134.8 777.7,131.7 778.1,128.6 778.5,125.5 778.9,122.6 779.3,120.0 779.7,117.5 780.1,115.1 780.5,112.7 780.9,110.4 781.3,108.1 781.7,106.0 782.1,104.0 782.5,102.1 782.9,100.4 783.3,98.8 783.7,97.3 784.1,95.7 784.5,94.3 784.9,92.9 785.3,91.7 785.7,90.5 786.1,89.5 786.5,88.6 786.9,87.9 787.3,87.3 787.7,86.7 788.1,86.2 788.5,85.8 788.9,85.6 789.3,85.6 789.7,85.9 790.1,86.2 790.5,86.7 790.9,87.2 791.3,87.8 791.7,88.5 792.1,89.5 792.5,90.8 792.9,92.4 793.3,94.1 793.7,95.9 794.1,97.8 794.5,99.6 794.9,101.6 795.3,103.6 795.7,105.8 796.1,108.1 796.5,110.5 796.9,113.0 797.3,115.5 797.7,118.4 798.1,121.8 798.5,125.3 798.9,128.7 799.3,131.4 799.7,133.2 800.1,134.6 800.5,135.7 800.9,136.7 801.3,137.7 801.7,138.6 802.1,139.8 802.5,141.2 802.9,143.0 803.3,145.2 803.7,147.6 804.1,150.2 804.5,152.9 804.9,155.6 805.3,158.2 805.7,160.6 806.1,163.0 806.5,165.4 806.9,167.8 807.3,170.1 807.7,172.4 808.1,174.5 808.5,176.6 808.9,178.4 809.3,180.2 809.7,182.0 810.1,183.6 810.5,185.2 810.9,186.5 811.3,187.7 811.7,188.8 812.1,190.0 812.5,191.0 812.9,191.7 813.3,192.1 813.7,191.9 814.1,191.2 814.5,190.1 814.9,188.7 815.3,187.2 815.7,185.9 816.1,184.4 816.5,182.7 816.9,180.9 817.3,179.0 817.7,177.0 818.1,175.0 818.5,172.9 818.9,170.7 819.3,168.5 819.7,166.2 820.1,163.9 820.5,161.7 820.9,159.6 821.3,157.4 821.7,155.3 822.1,153.2 822.5,151.2 822.9,149.5 823.3,148.0 823.7,146.6 824.1,145.2 824.5,144.0 824.9,142.9 825.3,141.9 825.7,141.0 826.1,140.1 826.5,139.3 826.9,138.6 827.3,138.0 827.7,137.6 828.1,137.2 828.5,136.8 828.9,136.5 829.3,136.2 829.7,136.0 830.1,136.0 830.5,136.0 830.9,136.0 831.3,136.0 831.7,136.0 832.1,136.0 832.5,136.0 832.9,136.0 833.3,136.0 833.7,136.0 834.1,136.0 834.5,136.0 834.9,136.0 835.3,136.0 835.7,136.0 836.1,136.0 836.5,136.0 836.9,136.0 837.3,136.0 837.7,136.0 838.1,136.0 838.5,136.0 838.9,136.0 839.3,136.0 839.7,136.0 840.1,136.0 840.5,136.0 840.9,136.0 841.3,136.0 841.7,136.0 842.1,136.0 842.5,136.0 842.9,136.0 843.3,136.0 843.7,136.0 844.1,136.0 844.5,136.0 844.9,136.0 845.3,136.0 845.7,136.0 846.1,136.0 846.5,136.0 846.9,136.0 847.3,136.0 847.7,136.0 848.1,136.0 848.5,136.0 848.9,136.0 849.3,136.0 849.7,136.0 850.1,136.0 850.5,136.0 850.9,136.0 851.3,136.0 851.7,136.0 852.1,136.0 852.5,136.0 852.9,136.0 853.3,136.0 853.7,136.0 854.1,136.0 854.5,136.0 854.9,136.0 855.3,136.0 855.7,136.0 856.1,136.0 856.5,136.0 856.9,136.0 857.3,136.0 857.7,136.0 858.1,136.0 858.5,136.0 858.9,136.0 859.3,136.0 859.7,136.0 860.1,136.0 860.5,136.0 860.9,136.0 861.3,136.0 861.7,136.0 862.1,136.0 862.5,136.0 862.9,136.0 863.3,136.0 863.7,136.0 864.1,136.0 864.5,136.0 864.9,136.0 865.3,136.0 865.7,136.0 866.1,136.0 866.5,136.0 866.9,136.0 867.3,136.0 867.7,136.0 868.1,136.0 868.5,136.0 868.9,136.0 869.3,136.0 869.7,136.0 870.1,136.0 870.5,136.0 870.9,136.0 871.3,136.0 871.7,136.0 872.1,136.0 872.5,136.0 872.9,136.0 873.3,136.0 873.7,136.0 874.1,136.0 874.5,136.0 874.9,136.0 875.3,136.0 875.7,136.0 876.1,136.0 876.5,136.0 876.9,136.0 877.3,136.0 877.7,136.0 878.1,136.0 878.5,136.0 878.9,136.0 879.3,136.0 879.7,136.0 880.1,136.0 880.5,136.0 880.9,136.0 881.3,136.0 881.7,136.0 882.1,136.0 882.5,136.0 882.9,136.0 883.3,136.0 883.7,136.0 884.1,136.0 884.5,136.0 884.9,136.0 885.3,136.0 885.7,136.0 886.1,136.0 886.5,136.0 886.9,136.0 887.3,136.0 887.7,136.0 888.1,136.0 888.5,136.0 888.9,136.0 889.3,136.0 889.7,136.0 890.1,136.0 890.5,136.0 890.9,136.0 891.3,136.0 891.7,136.0 892.1,136.0 892.5,136.0 892.9,136.0 893.3,136.0 893.7,136.0 894.1,136.0 894.5,136.0 894.9,136.0 895.3,136.0 895.7,136.0 896.1,136.0 896.5,136.0 896.9,136.0 897.3,136.0 897.7,136.0 898.1,136.0 898.5,136.0 898.9,136.0 899.3,136.0 899.7,136.0 900.1,136.0 900.5,136.0 900.9,136.0 901.3,136.0 901.7,136.0 902.1,136.0 902.5,136.0 902.9,136.0 903.3,136.0 903.7,136.0 904.1,136.0 904.5,136.0 904.9,136.0 905.3,136.0 905.7,136.0 906.1,136.0 906.5,136.0 906.9,136.0 907.3,136.0 907.7,136.0 908.1,136.0 908.5,136.0 908.9,136.0 909.3,136.0 909.7,136.0 910.1,136.0 910.5,136.0 910.9,136.0 911.3,136.0 911.7,136.0 912.1,136.0 912.5,136.0 912.9,136.0 913.3,136.0 913.7,136.0 914.1,136.0 914.5,136.0 914.9,136.0 915.3,136.0 915.7,136.0 916.1,136.0 916.5,136.0 916.9,136.0 917.3,136.0 917.7,136.0 918.1,136.0 918.5,136.0 918.9,136.0 919.3,136.0 919.7,136.0 920.1,136.0 920.5,136.0 920.9,136.0 921.3,136.0 921.7,136.0 922.1,136.0 922.5,136.0 922.9,136.0 923.3,136.0 923.7,136.0 924.1,136.0 924.5,136.0 924.9,136.0 925.3,136.0 925.7,136.0 926.1,136.0 926.5,136.0 926.9,136.0" stroke="#ff0000"/>
</g>
<g fill="#595959">
<text x="720.50" y="27.70" font-size="16.80" text-anchor="middle" textLength="59.96" lengthAdjust="spacingAndGlyphs">Velocity</text>
<text x="550.70" y="52.10" font-size="10.80" text-anchor="end" textLength="30.41" lengthAdjust="spacingAndGlyphs">15000</text>
<text x="550.70" y="81.10" font-size="10.80" text-anchor="end" textLength="30.41" lengthAdjust="spacingAndGlyphs">10000</text>
<text x="550.70" y="110.10" font-size="10.80" text-anchor="end" textLength="24.33" lengthAdjust="spacingAndGlyphs">5000</text>
<text x="550.70" y="139.10" font-size="10.80" text-anchor="end" textLength="6.08" lengthAdjust="spacingAndGlyphs">0</text>
<text x="550.70" y="167.10" font-size="10.80" text-anchor="end" textLength="28.00" lengthAdjust="spacingAndGlyphs">-5000</text>
<text x="550.70" y="196.10" font-size="10.80" text-anchor="end" textLength="34.08" lengthAdjust="spacingAndGlyphs">-10000</text>
<text x="550.70" y="225.10" font-size="10.80" text-anchor="end" textLength="34.08" lengthAdjust="spacingAndGlyphs">-15000</text>
<text x="562.50" y="154.90" font-size="10.80" text-anchor="middle" textLength="6.08" lengthAdjust="spacingAndGlyphs">0</text>
<text x="654.50" y="154.90" font-size="10.80" text-anchor="middle" textLength="18.25" lengthAdjust="spacingAndGlyphs">500</text>
<text x="747.50" y="154.90" font-size="10.80" text-anchor="middle" textLength="24.33" lengthAdjust="spacingAndGlyphs">1000</text>
<text x="840.50" y="154.90" font-size="10.80" text-anchor="middle" textLength="24.33" lengthAdjust="spacingAndGlyphs">1500</text>
<text x="933.50" y="154.90" font-size="10.80" text-anchor="middle" textLength="24.33" lengthAdjust="spacingAndGlyphs">2000</text>
<text x="747.30" y="237.70" font-size="11.33" text-anchor="middle" textLength="64.87" lengthAdjust="spacingAndGlyphs">Time [cycle]</text>
<text x="509.60" y="135.70" font-size="11.33" text-anchor="middle" textLength="71.13" lengthAdjust="spacingAndGlyphs" transform="rotate(-90 509.60 135.70)">Velocity [p/s]</text>
</g>
<g stroke-width="2.4" stroke-linecap="round">
<line x1="640.2" y1="269.0" x2="665.4" y2="269.0" stroke="#000000"/>
<line x1="729.4" y1="269.0" x2="754.2" y2="269.0" stroke="#ff0000"/>
</g>
<g fill="#595959">
<text x="668.60" y="272.00" font-size="10.80" text-anchor="start" textLength="46.03" lengthAdjust="spacingAndGlyphs">Axis 0 Vel</text>
<text x="757.90" y="272.00" font-size="10.80" text-anchor="start" textLength="46.03" lengthAdjust="spacingAndGlyphs">Axis 1 Vel</text>
</g>
<g stroke="#d9d9d9" stroke-width="1" shape-rendering="crispEdges">
<line x1="88.5" y1="337" x2="88.5" y2="511"/>
<line x1="179.5" y1="337" x2="179.5" y2="511"/>
<line x1="270.5" y1="337" x2="270.5" y2="511"/>
<line x1="361.5" y1="337" x2="361.5" y2="511"/>
<line x1="453.5" y1="337" x2="453.5" y2="511"/>
<line x1="88" y1="337.5" x2="454" y2="337.5"/>
<line x1="88" y1="366.5" x2="454" y2="366.5"/>
<line x1="88" y1="395.5" x2="454" y2="395.5"/>
<line x1="88" y1="424.5" x2="454" y2="424.5"/>
<line x1="88" y1="452.5" x2="454" y2="452.5"/>
<line x1="88" y1="481.5" x2="454" y2="481.5"/>
<line x1="88" y1="510.5" x2="454" y2="510.5"/>
</g>
<g fill="none" stroke-width="2.2" stroke-linejoin="round" stroke-linecap="round">
<polyline points="88.7,424.0 97.1,366.5 106.2,424.0 116.2,424.0 118.1,441.2 120.0,436.2 122.5,435.6 125.0,437.5 126.8,430.0 128.1,414.9 129.6,409.7 131.8,411.8 134.3,408.9 135.9,406.4 138.1,419.9 139.3,424.0 146.2,424.0 148.7,440.0 150.3,445.0 152.4,441.2 154.3,440.6 156.2,441.8 158.7,433.7 160.5,424.0 163.0,406.2 164.9,404.9 168.0,398.0 173.8,453.0 174.9,450.0 176.8,445.6 178.7,444.3 181.8,433.7 184.5,424.0 187.4,402.4 189.9,400.0 192.1,394.7 193.6,402.4 195.5,424.0 196.8,440.0 198.9,458.1 201.1,452.5 203.0,450.6 205.0,442.5 206.2,435.6 209.4,434.3 211.9,430.6 214.4,425.0 216.9,412.7 219.4,422.5 222.2,438.1 224.4,428.7 226.2,421.2 228.5,419.7 230.6,423.7 231.8,422.5 234.0,427.7 236.2,423.7 238.5,418.7 240.2,409.7 241.8,417.5 243.7,426.2 245.6,438.7 247.5,430.0 250.0,423.7 251.8,421.9 253.7,425.6 254.9,425.0 256.8,430.6 258.7,431.5 260.6,427.5 263.1,414.0 264.9,422.5 266.8,430.0 268.7,434.3 270.6,425.0 272.4,418.7 274.3,417.5 276.2,421.9 277.2,425.0 278.4,421.2 279.9,428.1 281.4,429.4 283.7,425.0 286.2,413.5 288.0,421.2 289.9,427.5 292.0,434.3 293.7,426.2 295.5,420.6 297.2,419.7 298.9,425.0 299.9,427.5 301.4,423.7 303.0,430.0 304.5,431.8 306.8,426.2 308.9,416.5 311.1,423.7 313.0,427.5 314.9,431.2 316.8,422.5 319.3,416.9 320.6,420.0 322.2,425.6 323.7,421.2 325.6,426.9 327.5,430.0 329.4,423.7 331.2,416.0 333.7,418.7 335.6,422.5 337.7,426.9 343.7,434.3 352.5,424.0 447.6,424.0" stroke="#000000"/>
<polyline points="88.7,424.0 97.1,387.2 106.2,424.0 116.2,424.0 125.0,474.9 127.2,479.9 129.3,474.9 136.2,433.7 138.9,424.0 146.8,424.0 151.2,405.0 155.8,373.7 159.5,365.6 163.0,365.6 167.4,396.2 171.2,427.0 172.4,440.0 178.7,482.2 187.6,482.2 191.1,458.7 194.9,427.5 196.8,400.0 203.0,365.6 206.5,366.2 208.1,371.0 212.7,371.0 216.9,395.0 219.8,427.0 221.9,455.7 223.7,463.2 226.2,477.9 229.4,477.6 231.0,473.0 232.7,477.9 236.2,477.9 238.7,463.2 240.3,457.6 242.5,427.0 245.6,387.5 246.8,384.3 249.3,369.4 252.5,369.4 254.3,376.2 255.6,376.2 257.2,371.9 259.9,371.6 261.8,383.1 263.4,387.5 266.2,427.0 268.7,462.0 270.6,467.0 272.4,477.0 274.9,477.0 276.8,470.7 278.4,470.7 280.2,477.2 283.0,477.0 284.9,467.6 286.8,462.0 288.9,427.0 292.4,383.7 293.7,380.6 295.2,370.6 298.0,370.6 299.9,377.5 301.8,377.5 303.4,371.9 305.9,371.9 308.0,381.2 309.3,384.3 312.3,427.0 315.0,465.0 316.2,468.7 317.9,476.6 320.8,476.5 322.1,470.0 324.1,470.0 326.0,476.6 328.7,476.5 330.0,468.3 331.2,465.8 333.7,452.5 335.6,427.0 337.5,402.5 343.7,366.5 353.1,424.0 447.6,424.0" stroke="#ff0000"/>
</g>
<g fill="#595959">
<text x="240.50" y="315.70" font-size="16.80" text-anchor="middle" textLength="94.39" lengthAdjust="spacingAndGlyphs">Acceleration</text>
<text x="76.70" y="340.10" font-size="10.80" text-anchor="end" textLength="36.49" lengthAdjust="spacingAndGlyphs">300000</text>
<text x="76.70" y="369.10" font-size="10.80" text-anchor="end" textLength="36.49" lengthAdjust="spacingAndGlyphs">200000</text>
<text x="76.70" y="398.10" font-size="10.80" text-anchor="end" textLength="36.49" lengthAdjust="spacingAndGlyphs">100000</text>
<text x="76.70" y="427.10" font-size="10.80" text-anchor="end" textLength="6.08" lengthAdjust="spacingAndGlyphs">0</text>
<text x="76.70" y="455.10" font-size="10.80" text-anchor="end" textLength="40.17" lengthAdjust="spacingAndGlyphs">-100000</text>
<text x="76.70" y="484.10" font-size="10.80" text-anchor="end" textLength="40.17" lengthAdjust="spacingAndGlyphs">-200000</text>
<text x="76.70" y="513.10" font-size="10.80" text-anchor="end" textLength="40.17" lengthAdjust="spacingAndGlyphs">-300000</text>
<text x="88.50" y="442.90" font-size="10.80" text-anchor="middle" textLength="6.08" lengthAdjust="spacingAndGlyphs">0</text>
<text x="179.50" y="442.90" font-size="10.80" text-anchor="middle" textLength="18.25" lengthAdjust="spacingAndGlyphs">500</text>
<text x="270.50" y="442.90" font-size="10.80" text-anchor="middle" textLength="24.33" lengthAdjust="spacingAndGlyphs">1000</text>
<text x="361.50" y="442.90" font-size="10.80" text-anchor="middle" textLength="24.33" lengthAdjust="spacingAndGlyphs">1500</text>
<text x="453.50" y="442.90" font-size="10.80" text-anchor="middle" textLength="24.33" lengthAdjust="spacingAndGlyphs">2000</text>
<text x="270.30" y="525.70" font-size="11.33" text-anchor="middle" textLength="64.87" lengthAdjust="spacingAndGlyphs">Time [cycle]</text>
<text x="29.60" y="423.70" font-size="11.33" text-anchor="middle" textLength="109.12" lengthAdjust="spacingAndGlyphs" transform="rotate(-90 29.60 423.70)">Acceleration [p/s^2]</text>
</g>
<g stroke-width="2.4" stroke-linecap="round">
<line x1="159.5" y1="557.0" x2="183.2" y2="557.0" stroke="#000000"/>
<line x1="250.5" y1="557.0" x2="274.2" y2="557.0" stroke="#ff0000"/>
</g>
<g fill="#595959">
<text x="187.10" y="560.00" font-size="10.80" text-anchor="start" textLength="48.19" lengthAdjust="spacingAndGlyphs">Axis 0 Acc</text>
<text x="277.90" y="560.00" font-size="10.80" text-anchor="start" textLength="48.19" lengthAdjust="spacingAndGlyphs">Axis 1 Acc</text>
</g>
<g stroke="#d9d9d9" stroke-width="1" shape-rendering="crispEdges">
<line x1="580.5" y1="337" x2="580.5" y2="511"/>
<line x1="668.5" y1="337" x2="668.5" y2="511"/>
<line x1="756.5" y1="337" x2="756.5" y2="511"/>
<line x1="844.5" y1="337" x2="844.5" y2="511"/>
<line x1="933.5" y1="337" x2="933.5" y2="511"/>
<line x1="580" y1="337.5" x2="934" y2="337.5"/>
<line x1="580" y1="366.5" x2="934" y2="366.5"/>
<line x1="580" y1="395.5" x2="934" y2="395.5"/>
<line x1="580" y1="424.5" x2="934" y2="424.5"/>
<line x1="580" y1="452.5" x2="934" y2="452.5"/>
<line x1="580" y1="481.5" x2="934" y2="481.5"/>
<line x1="580" y1="510.5" x2="934" y2="510.5"/>
</g>
<g fill="none" stroke-width="2.2" stroke-linejoin="round" stroke-linecap="round">
<polyline points="580.7,424.0 580.8,395.2 589.0,395.2 589.2,452.7 597.8,452.7 598.0,424.0 606.6,424.0 606.8,452.7 609.3,452.7 609.6,412.7 615.2,430.6 616.0,403.6 617.8,403.6 618.2,366.4 618.6,366.4 619.0,407.0 620.1,429.8 626.0,412.7 626.7,452.7 629.3,452.7 629.5,424.0 636.6,424.0 636.8,452.7 640.0,452.7 640.5,411.9 646.0,429.8 648.0,411.0 648.7,366.4 649.0,366.4 649.6,406.5 652.2,396.5 653.5,422.3 657.2,406.9 658.0,452.7 663.0,452.7 663.4,407.3 667.2,422.3 668.4,396.5 671.4,411.9 672.0,410.0 672.3,378.0 672.7,378.0 673.7,411.2 675.5,420.0 680.0,406.0 680.3,452.7 681.6,452.7 681.9,481.8 685.5,481.8 685.8,452.7 687.0,452.7 687.3,424.0 688.0,407.4 690.0,415.0 691.7,397.0 695.5,426.0 696.0,408.0 697.3,428.0 700.4,409.6 700.7,419.0 703.8,395.2 705.4,448.1 708.7,448.1 710.1,395.2 712.6,409.6 713.8,410.5 714.6,419.6 716.0,428.0 716.8,441.2 717.6,441.2 718.4,399.7 719.2,441.2 720.0,441.2 722.0,424.0 725.0,410.0 727.3,412.0 727.5,448.5 732.5,448.5 732.8,412.0 735.0,416.0 737.5,430.0 741.3,403.8 741.8,445.6 744.0,420.0 746.5,412.0 748.8,395.2 749.1,481.8 755.2,481.8 755.9,395.2 758.5,412.0 760.2,424.0 761.6,430.0 761.8,445.6 763.2,445.6 763.8,408.0 764.4,445.6 764.9,445.6 767.0,424.0 769.5,410.0 771.6,412.0 771.8,440.0 777.4,440.0 777.7,412.0 780.0,418.0 782.0,428.0 783.7,445.0 785.5,410.0 786.8,448.0 788.7,448.0 790.0,420.0 792.4,395.2 794.0,434.4 799.9,434.4 800.6,395.2 802.0,430.0 804.3,448.1 806.9,448.1 807.5,412.0 809.4,448.0 811.0,415.0 813.0,395.2 814.5,420.0 815.6,429.4 818.1,429.4 818.7,435.0 821.8,435.0 822.5,429.4 827.7,429.4 828.3,418.8 836.2,418.8 836.6,424.0 927.9,424.0" stroke="#000000"/>
<polyline points="580.7,424.0 580.7,405.4 588.8,405.4 589.0,442.4 597.8,442.4 598.0,424.0 607.6,424.0 607.8,442.4 609.3,442.4 609.5,452.7 615.6,452.7 615.8,433.7 618.2,433.7 618.4,412.8 620.4,412.8 620.6,395.2 626.7,395.2 626.9,405.4 629.5,405.4 629.7,424.0 636.7,424.0 636.9,405.4 640.2,405.4 640.4,395.2 646.2,395.2 646.4,412.5 649.5,412.5 649.7,424.0 652.4,424.0 652.6,452.7 659.0,452.7 659.2,481.8 661.7,481.8 661.9,452.7 667.6,452.7 667.8,424.0 676.4,424.0 676.6,395.2 682.2,395.2 682.4,366.4 685.7,366.4 685.9,395.2 691.3,395.2 691.5,424.0 694.0,424.0 694.3,424.0 694.9,440.0 696.0,440.0 696.6,424.0 696.8,424.0 700.5,424.0 700.6,452.7 701.9,452.7 704.2,435.8 704.4,481.8 709.6,481.8 709.8,435.8 711.8,452.7 713.1,452.7 713.2,424.0 716.0,424.0 716.0,424.0 717.3,407.6 718.6,424.0 718.6,424.0 719.9,440.6 721.2,424.0 721.4,424.0 723.7,424.0 723.9,395.2 725.1,395.2 726.5,412.2 726.6,366.4 732.8,366.4 732.9,412.2 734.8,395.2 736.1,395.2 736.2,424.0 739.0,424.0 739.0,424.0 740.3,444.3 741.6,424.0 740.8,424.0 742.1,407.2 743.4,424.0 743.6,424.0 746.0,424.0 746.1,452.7 747.4,452.7 748.9,435.8 749.0,481.8 755.3,481.8 755.4,435.8 756.5,452.7 757.8,452.7 757.9,424.0 760.9,424.0 761.0,424.0 762.3,403.6 763.6,424.0 763.6,424.0 764.9,444.3 766.2,424.0 766.4,424.0 768.6,424.0 768.8,395.2 770.0,395.2 771.5,412.2 771.6,366.4 777.7,366.4 777.9,412.2 779.2,395.2 780.5,395.2 780.6,424.0 783.0,424.0 783.0,424.0 784.3,444.0 785.6,424.0 785.5,424.0 786.8,404.0 788.1,424.0 788.3,424.0 790.5,424.0 790.6,452.7 791.9,452.7 793.1,435.8 793.3,481.8 800.1,481.8 800.2,435.8 801.1,452.7 802.4,452.7 802.5,424.0 804.6,424.0 804.7,424.0 806.0,401.8 807.3,424.0 807.3,424.0 808.6,444.0 809.9,424.0 813.0,424.0 813.2,395.2 818.3,395.2 818.5,366.4 821.6,366.4 821.8,395.2 827.6,395.2 827.8,452.7 836.2,452.7 836.4,424.0 927.9,424.0" stroke="#ff0000"/>
</g>
<g fill="#595959">
<text x="720.50" y="315.70" font-size="16.80" text-anchor="middle" textLength="30.23" lengthAdjust="spacingAndGlyphs">Jerk</text>
<text x="568.70" y="340.10" font-size="10.80" text-anchor="end" textLength="48.66" lengthAdjust="spacingAndGlyphs">12000000</text>
<text x="568.70" y="369.10" font-size="10.80" text-anchor="end" textLength="42.57" lengthAdjust="spacingAndGlyphs">8000000</text>
<text x="568.70" y="398.10" font-size="10.80" text-anchor="end" textLength="42.57" lengthAdjust="spacingAndGlyphs">4000000</text>
<text x="568.70" y="427.10" font-size="10.80" text-anchor="end" textLength="6.08" lengthAdjust="spacingAndGlyphs">0</text>
<text x="568.70" y="455.10" font-size="10.80" text-anchor="end" textLength="46.25" lengthAdjust="spacingAndGlyphs">-4000000</text>
<text x="568.70" y="484.10" font-size="10.80" text-anchor="end" textLength="46.25" lengthAdjust="spacingAndGlyphs">-8000000</text>
<text x="568.70" y="513.10" font-size="10.80" text-anchor="end" textLength="52.33" lengthAdjust="spacingAndGlyphs">-12000000</text>
<text x="580.50" y="442.90" font-size="10.80" text-anchor="middle" textLength="6.08" lengthAdjust="spacingAndGlyphs">0</text>
<text x="668.50" y="442.90" font-size="10.80" text-anchor="middle" textLength="18.25" lengthAdjust="spacingAndGlyphs">500</text>
<text x="756.50" y="442.90" font-size="10.80" text-anchor="middle" textLength="24.33" lengthAdjust="spacingAndGlyphs">1000</text>
<text x="844.50" y="442.90" font-size="10.80" text-anchor="middle" textLength="24.33" lengthAdjust="spacingAndGlyphs">1500</text>
<text x="933.50" y="442.90" font-size="10.80" text-anchor="middle" textLength="24.33" lengthAdjust="spacingAndGlyphs">2000</text>
<text x="756.30" y="525.70" font-size="11.33" text-anchor="middle" textLength="64.87" lengthAdjust="spacingAndGlyphs">Time [cycle]</text>
<text x="509.60" y="423.70" font-size="11.33" text-anchor="middle" textLength="63.30" lengthAdjust="spacingAndGlyphs" transform="rotate(-90 509.60 423.70)">Jerk [p/s^3]</text>
</g>
<g stroke-width="2.4" stroke-linecap="round">
<line x1="636.4" y1="557.0" x2="660.5" y2="557.0" stroke="#000000"/>
<line x1="730.5" y1="557.0" x2="754.2" y2="557.0" stroke="#ff0000"/>
</g>
<g fill="#595959">
<text x="664.00" y="560.00" font-size="10.80" text-anchor="start" textLength="50.53" lengthAdjust="spacingAndGlyphs">Axis 0 Jerk</text>
<text x="757.90" y="560.00" font-size="10.80" text-anchor="start" textLength="50.53" lengthAdjust="spacingAndGlyphs">Axis 1 Jerk</text>
</g>
<g stroke="#000" stroke-width="1" shape-rendering="crispEdges" fill="none">
<rect x="0.5" y="0.5" width="960" height="576"/>
<line x1="480.5" y1="0" x2="480.5" y2="577"/>
<line x1="0" y1="288.5" x2="961" y2="288.5"/>
</g>
</svg>
</body></html>
